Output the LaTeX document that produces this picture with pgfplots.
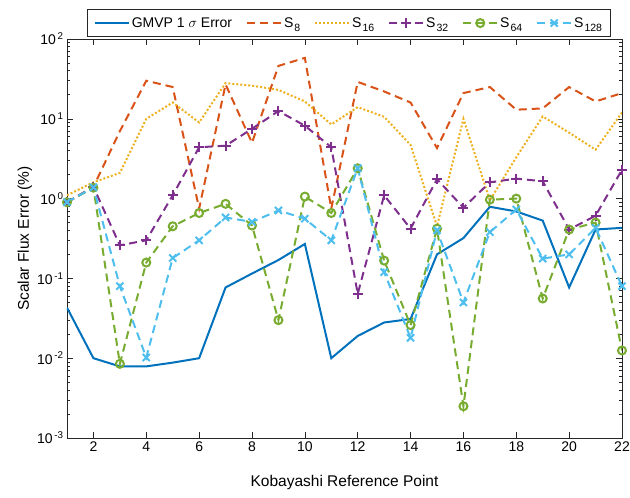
\documentclass[border=0pt]{standalone}
\usepackage{fontspec}
\setmainfont{Liberation Sans}
\usepackage{pgfplots}
\pgfplotsset{compat=1.18}
\usetikzlibrary{calc}
\definecolor{c1}{rgb}{0,0.447,0.741}
\definecolor{c2}{rgb}{0.85,0.325,0.098}
\definecolor{c3}{rgb}{0.929,0.694,0.125}
\definecolor{c4}{rgb}{0.494,0.184,0.556}
\definecolor{c5}{rgb}{0.466,0.674,0.188}
\definecolor{c6}{rgb}{0.301,0.745,0.933}
\newcommand{\sub}[1]{\kern1bp\raisebox{-4.5bp}{\fontsize{10.5bp}{11bp}\selectfont #1}}
\begin{document}
\begin{tikzpicture}
\begin{axis}[
  scale only axis, width=555bp, height=399bp,
  ymode=log, xmin=1, xmax=22, ymin=1e-3, ymax=1e2,
  xtick={2,4,...,22},
  ytick={1e-3,1e-2,1e-1,1,10,100},
  yticklabels={10\textsuperscript{\,-3},10\textsuperscript{\,-2},10\textsuperscript{\,-1},10\textsuperscript{\,0},10\textsuperscript{\,1},10\textsuperscript{\,2}},
  tick align=inside, major tick length=6bp, minor tick length=3.5bp,
  axis line style={black!85, line width=0.6bp},
  every tick/.style={black!85, line width=0.6bp},
  xlabel={Kobayashi Reference Point}, ylabel={Scalar Flux Error (\%)},
  label style={font=\fontsize{15.5bp}{18bp}\selectfont},
  xlabel style={at={(axis description cs:0.5,-0.112)}, anchor=center},
  ylabel style={at={(axis description cs:-0.0757,0.5)}, anchor=center},
  tick label style={font=\fontsize{14bp}{16bp}\selectfont},
  xticklabel style={/pgf/number format/assume math mode=true},
  legend columns=6,
  legend style={at={(0.508,1.005)}, anchor=south, draw=black!85, line width=0.6bp,
    font=\fontsize{14bp}{16bp}\selectfont, inner ysep=6bp, inner xsep=6bp,
    /tikz/every even column/.append style={column sep=12bp}},
  legend image code/.code={\draw[mark repeat=2,mark phase=2,#1] plot coordinates {(0bp,0bp) (17bp,0bp) (34bp,0bp)};},
  every axis plot/.append style={line width=2bp},
]
\addplot[c1, solid] coordinates {(1,0.043)(2,0.010)(3,0.0079)(4,0.0079)(5,0.0088)(6,0.010)(7,0.077)(8,0.115)(9,0.17)(10,0.27)(11,0.010)(12,0.019)(13,0.028)(14,0.031)(15,0.20)(16,0.32)(17,0.79)(18,0.69)(19,0.53)(20,0.077)(21,0.41)(22,0.43)};
\addlegendentry{GMVP 1 $\sigma$ Error}
\addplot[c2, dash pattern=on 8bp off 5bp] coordinates {(1,0.9)(2,1.4)(3,7)(4,30)(5,25)(6,0.75)(7,27)(8,5)(9,46)(10,58)(11,0.75)(12,29)(13,22)(14,16)(15,4.3)(16,21)(17,25)(18,13)(19,13.5)(20,25)(21,16.5)(22,21)};
\addlegendentry{S\sub{8}}
\addplot[c3, dash pattern=on 2bp off 2bp] coordinates {(1,1.1)(2,1.6)(3,2.1)(4,10)(5,16)(6,9)(7,28)(8,26)(9,23)(10,16.5)(11,8.5)(12,14)(13,10.6)(14,4.7)(15,0.45)(16,10)(17,0.95)(18,3.3)(19,10.7)(20,6.7)(21,4.1)(22,12)};
\addlegendentry{S\sub{16}}
\addplot[c4, dash pattern=on 8bp off 5bp, mark=+, mark size=5bp, mark options={solid}] coordinates {(1,0.9)(2,1.4)(3,0.26)(4,0.30)(5,1.1)(6,4.4)(7,4.6)(8,7.5)(9,12.5)(10,8.2)(11,4.4)(12,0.064)(13,1.1)(14,0.42)(15,1.75)(16,0.77)(17,1.6)(18,1.78)(19,1.65)(20,0.41)(21,0.61)(22,2.3)};
\addlegendentry{S\sub{32}}
\addplot[c5, dash pattern=on 8bp off 5bp, mark=o, mark size=4bp, mark options={solid}] coordinates {(1,0.9)(2,1.37)(3,0.0085)(4,0.158)(5,0.45)(6,0.66)(7,0.86)(8,0.46)(9,0.030)(10,1.06)(11,0.66)(12,2.4)(13,0.167)(14,0.026)(15,0.42)(16,0.0025)(17,0.97)(18,1.0)(19,0.056)(20,0.41)(21,0.50)(22,0.0125)};
\addlegendentry{S\sub{64}}
\addplot[c6, dash pattern=on 8bp off 5bp, mark=x, mark size=5bp, mark options={solid}] coordinates {(1,0.9)(2,1.38)(3,0.08)(4,0.0102)(5,0.18)(6,0.30)(7,0.58)(8,0.51)(9,0.71)(10,0.56)(11,0.30)(12,2.4)(13,0.12)(14,0.018)(15,0.40)(16,0.05)(17,0.38)(18,0.73)(19,0.177)(20,0.20)(21,0.43)(22,0.08)};
\addlegendentry{S\sub{128}}
\coordinate (ll) at (rel axis cs:0,0);
\coordinate (ur) at (rel axis cs:1,1);
\end{axis}
\pgfresetboundingbox
\path ($(ll)+(-67bp,-60bp)$) rectangle ($(ur)+(8bp,39bp)$);
\end{tikzpicture}
\end{document}
